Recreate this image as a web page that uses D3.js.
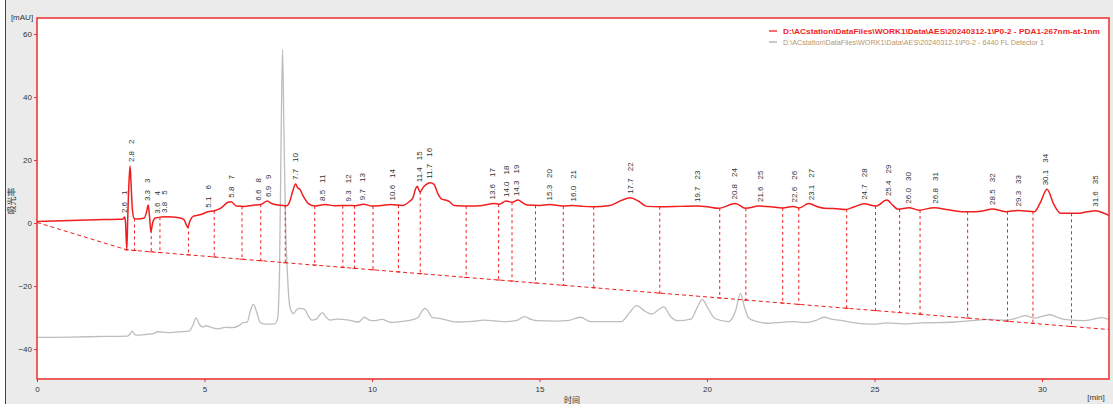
<!DOCTYPE html>
<html>
<head>
<meta charset="utf-8">
<script src="https://cdn.jsdelivr.net/npm/d3@7"></script>
<style>
  html, body { margin: 0; padding: 0; background: #fff; }
  svg { display: block; font-family: "Liberation Sans", Arial, sans-serif; }
</style>
</head>
<body>
<div id="chart"></div>
<script>
// PDA1-267nm signal (time in min, mAU)
const pdaTime = [0, 1.0, 2.0, 2.5, 2.57, 2.61, 2.64, 2.68, 2.71, 2.75, 2.78, 2.81, 2.85, 2.9, 3.0, 3.2, 3.27, 3.32, 3.36, 3.40, 3.45, 3.53, 3.7, 3.9, 4.2, 4.38, 4.45, 4.5, 4.56, 4.67, 4.9, 5.1, 5.3, 5.5, 5.7, 5.8, 5.95, 6.2, 6.5, 6.7, 6.88, 7.0, 7.2, 7.45, 7.55, 7.63, 7.72, 7.78, 7.84, 7.95, 8.1, 8.3, 8.6, 8.9, 9.3, 9.5, 9.75, 10.0, 10.3, 10.55, 10.9, 11.1, 11.22, 11.3, 11.35, 11.43, 11.55, 11.74, 11.85, 11.98, 12.08, 12.2, 12.3, 12.45, 12.9, 13.3, 13.63, 13.8, 14.0, 14.18, 14.36, 14.5, 14.65, 15.0, 15.3, 15.7, 16.0, 16.3, 16.6, 17.1, 17.45, 17.7, 17.95, 18.2, 18.6, 19.2, 19.7, 20.0, 20.35, 20.85, 21.15, 21.55, 21.9, 22.25, 22.57, 22.75, 23.04, 23.3, 23.5, 23.8, 24.14, 24.4, 24.69, 25.04, 25.37, 25.55, 25.7, 26.03, 26.33, 26.78, 27.2, 27.6, 28.0, 28.25, 28.52, 28.92, 29.27, 29.5, 29.77, 29.95, 30.15, 30.35, 30.56, 31.07, 31.35, 31.61, 31.85, 32.0];
const pdaValue = [0.5, 0.8, 1.1, 1.2, 1.3, 1.9, 0.5, -8.5, 2, 14, 18.1, 12, 4, 1.5, 1.3, 1.6, 3.5, 5.7, 2, -2.8, 0, 1.6, 1.9, 2.0, 1.8, 1.2, -0.4, -1.4, 0.5, 2.2, 2.7, 3.6, 3.9, 4.8, 6.6, 6.8, 5.4, 5.3, 5.7, 6.0, 7.0, 6.2, 5.7, 5.5, 7, 10, 12.4, 11.2, 10.8, 8.5, 6.2, 5.4, 5.9, 5.5, 5.6, 5.5, 6.0, 5.4, 5.6, 5.9, 5.6, 6.7, 8.0, 10.8, 11.7, 9.9, 11.6, 12.8, 12.3, 9, 7.6, 7.3, 6.9, 5.6, 5.4, 5.6, 6.2, 6.0, 7.0, 6.6, 7.3, 6.4, 5.7, 5.6, 5.9, 5.4, 5.6, 5.3, 5.2, 5.6, 7.2, 8.0, 7.0, 5.3, 5.2, 5.3, 5.4, 5.2, 4.7, 6.2, 4.7, 5.4, 5.2, 4.8, 5.3, 4.8, 6.2, 5.2, 4.7, 4.6, 4.3, 5.2, 6.1, 5.4, 7.3, 5.6, 4.4, 4.9, 4.1, 4.9, 4.2, 3.6, 3.6, 3.9, 4.5, 3.6, 4.0, 3.8, 3.6, 6.5, 10.7, 6, 3.1, 3.1, 3.6, 3.9, 3.1, 2.4];

// 6440 FL Detector 1 signal
const flTime = [0, 1.0, 2.0, 2.7, 2.78, 2.84, 2.92, 3.0, 3.3, 3.45, 3.6, 3.9, 4.3, 4.55, 4.65, 4.75, 4.85, 4.95, 5.05, 5.2, 5.4, 5.62, 5.85, 6.05, 6.15, 6.27, 6.38, 6.46, 6.55, 6.66, 6.8, 7.1, 7.18, 7.24, 7.29, 7.33, 7.37, 7.42, 7.48, 7.56, 7.66, 7.75, 7.84, 7.98, 8.1, 8.2, 8.34, 8.45, 8.53, 8.62, 8.75, 8.95, 9.25, 9.6, 9.77, 9.9, 10.05, 10.3, 10.55, 10.9, 11.24, 11.39, 11.5, 11.59, 11.7, 11.79, 12.04, 12.54, 13.0, 13.34, 13.94, 14.3, 14.55, 14.75, 14.93, 15.5, 15.83, 16.22, 16.53, 17.44, 17.68, 17.9, 18.15, 18.36, 18.55, 18.71, 18.9, 19.12, 19.52, 19.72, 19.86, 20.0, 20.24, 20.64, 20.85, 21.0, 21.1, 21.25, 21.5, 21.81, 22.2, 22.58, 22.93, 23.25, 23.49, 23.75, 23.95, 24.35, 24.96, 25.37, 25.88, 26.39, 26.9, 27.4, 27.9, 28.42, 28.93, 29.2, 29.49, 29.79, 30.0, 30.25, 30.45, 30.66, 31.27, 31.5, 31.78, 32.0];
const flValue = [-36.3, -36.2, -36.0, -35.9, -35.2, -34.3, -35.4, -35.6, -35.3, -35.2, -34.5, -34.8, -34.5, -34.2, -32.5, -30.1, -32.2, -33.0, -32.6, -33.1, -33.6, -33.1, -33.2, -32.4, -31.6, -31.5, -27.5, -25.8, -28.0, -31.5, -32.1, -32.0, -30.5, -15, 30, 55.1, 30, 0, -17, -27.1, -28.7, -27.5, -27.1, -27.3, -29.5, -30.8, -30.5, -29, -28.4, -29.8, -30.8, -30.5, -30.7, -31.4, -29.9, -30.7, -31.0, -30.6, -31.5, -31.2, -30.6, -29.8, -27.8, -27.1, -28.4, -29.9, -30.3, -31.4, -31.2, -30.8, -31.3, -31, -29.7, -30.6, -31.0, -31.1, -31.0, -29.9, -31.3, -31.3, -28.5, -26.2, -28, -28.9, -27.5, -26.6, -29.5, -31.0, -30.5, -26.5, -24.2, -26.5, -30.3, -31.3, -28, -22.3, -26, -30.2, -31.3, -31.8, -31.5, -31.3, -31.6, -30.9, -29.9, -30.6, -30.8, -31.6, -32.1, -31.7, -32.0, -31.7, -31.6, -31.4, -31.0, -30.6, -30.8, -30.3, -29.4, -30.2, -29.6, -29.1, -29.9, -30.6, -31.0, -30.6, -30.0, -30.6];

// integration baseline and peak boundaries
const baseTime = [0, 2.68, 32];
const baseValue = [0.2, -8.5, -33.8];
const dropTimes = [2.68, 2.91, 3.41, 3.67, 4.52, 5.29, 6.12, 6.68, 7.41, 8.29, 9.13, 9.48, 10.03, 10.79, 11.44, 12.81, 13.78, 14.18, 14.88, 15.71, 16.62, 18.59, 20.38, 21.16, 22.26, 22.74, 24.17, 25.03, 25.75, 26.36, 27.78, 28.97, 29.73, 30.88];

// peak labels
const peakTimes = ["2.6", "2.8", "3.3", "3.6", "3.8", "5.1", "5.8", "6.6", "6.9", "7.7", "8.5", "9.3", "9.7", "10.6", "11.4", "11.7", "13.6", "14.0", "14.3", "15.3", "16.0", "17.7", "19.7", "20.8", "21.6", "22.6", "23.1", "24.7", "25.4", "26.0", "26.8", "28.5", "29.3", "30.1", "31.6"];
const peakNumbers = d3.range(1, 36);

const xTicks = [0, 5, 10, 15, 20, 25, 30];
const yTicks = [-40, -20, 0, 20, 40, 60];

const legendNames = [
  "D:\\ACstation\\DataFiles\\WORK1\\Data\\AES\\20240312-1\\P0-2 - PDA1-267nm-at-1nm",
  "D:\\ACstation\\DataFiles\\WORK1\\Data\\AES\\20240312-1\\P0-2 - 6440 FL Detector 1"
];

const width = 1113, height = 409;
const red = "#f01e1e";

const svg = d3.select("#chart").append("svg")
  .attr("width", width)
  .attr("height", height);

// grey panel
svg.append("rect").attr("x", 6).attr("y", 0).attr("width", width - 6).attr("height", 404).attr("fill", "#ebebeb");
svg.append("line").attr("x1", 5.5).attr("x2", 5.5).attr("y1", 0).attr("y2", 404).attr("stroke", "#444").attr("stroke-width", 1);

const x = d3.scaleLinear().domain([0, 32]).range([37, 1109]);
const y = d3.scaleLinear().domain([-49.5, 65.1]).range([379, 18]);

svg.append("rect")
  .attr("x", x(0)).attr("y", y(65.1))
  .attr("width", x(32) - x(0)).attr("height", y(-49.5) - y(65.1))
  .attr("fill", "#fff");

svg.append("clipPath").attr("id", "clip")
  .append("rect")
  .attr("x", x(0)).attr("y", y(65.1))
  .attr("width", x(32) - x(0)).attr("height", y(-49.5) - y(65.1));

const plot = svg.append("g").attr("clip-path", "url(#clip)");

// interpolation helper
function valueAt(times, values, t) {
  const i = d3.bisectLeft(times, t);
  if (i <= 0) return values[0];
  if (i >= times.length) return values[values.length - 1];
  const t0 = times[i - 1], t1 = times[i];
  return values[i - 1] + (values[i] - values[i - 1]) * (t - t0) / (t1 - t0);
}

const line = d3.line()
  .x(d => x(d[0]))
  .y(d => y(d[1]))
  .curve(d3.curveMonotoneX);

// FL trace
plot.append("path")
  .datum(d3.zip(flTime, flValue))
  .attr("d", line)
  .attr("fill", "none")
  .attr("stroke", "#bdbdbd")
  .attr("stroke-width", 1.3);

// baseline
plot.append("path")
  .datum(d3.zip(baseTime, baseValue))
  .attr("d", d3.line().x(d => x(d[0])).y(d => y(d[1])))
  .attr("fill", "none")
  .attr("stroke", red)
  .attr("stroke-width", 1)
  .attr("stroke-dasharray", "4,3");

// drop lines
const drops = plot.append("g");
dropTimes.forEach(t => {
  const top = valueAt(pdaTime, pdaValue, t);
  const bot = valueAt(baseTime, baseValue, t);
  drops.append("line")
    .attr("x1", x(t)).attr("x2", x(t))
    .attr("y1", y(top)).attr("y2", y(bot))
    .attr("stroke", red)
    .attr("stroke-width", 1)
    .attr("stroke-dasharray", "3,3");
  drops.append("line")
    .attr("x1", x(t) - 2).attr("x2", x(t) + 2)
    .attr("y1", y(bot)).attr("y2", y(bot))
    .attr("stroke", red)
    .attr("stroke-width", 1);
});

// PDA trace
plot.append("path")
  .datum(d3.zip(pdaTime, pdaValue))
  .attr("d", line)
  .attr("fill", "none")
  .attr("stroke", red)
  .attr("stroke-width", 1.5);

// peak labels
const labels = svg.append("g")
  .attr("font-size", "8px")
  .attr("fill", "#333");

peakTimes.forEach((s, i) => {
  const t = +s;
  let apex = valueAt(pdaTime, pdaValue, t);
  pdaTime.forEach((tt, j) => {
    if (Math.abs(tt - t) <= 0.06) apex = Math.max(apex, pdaValue[j]);
  });
  const px = x(t), py = y(apex) - 4;
  const tl = labels.append("text")
    .attr("transform", `translate(${px},${py}) rotate(-90)`)
    .attr("dy", "0.35em")
    .text(s);
  const len = tl.node().getComputedTextLength();
  labels.append("text")
    .attr("transform", `translate(${px},${py - len - 7}) rotate(-90)`)
    .attr("dy", "0.35em")
    .text(peakNumbers[i]);
});

// frame
svg.append("rect")
  .attr("x", x(0)).attr("y", y(65.1))
  .attr("width", x(32) - x(0)).attr("height", y(-49.5) - y(65.1))
  .attr("fill", "none")
  .attr("stroke", "#ee2c2c")
  .attr("stroke-width", 1.5);

// axes
const xAxis = svg.append("g")
  .attr("transform", `translate(0,${y(-49.5)})`)
  .call(d3.axisBottom(x).tickValues(xTicks).tickSize(3).tickPadding(4));
const yAxis = svg.append("g")
  .attr("transform", `translate(${x(0)},0)`)
  .call(d3.axisLeft(y).tickValues(yTicks).tickSize(3).tickPadding(2));
[xAxis, yAxis].forEach(a => {
  a.select(".domain").remove();
  a.selectAll(".tick line").attr("stroke", "#ee2c2c");
  a.selectAll(".tick text")
    .attr("fill", "#333")
    .attr("font-size", "8px")
    .attr("font-family", "Liberation Sans, Arial, sans-serif");
});

svg.append("text")
  .attr("x", 22).attr("y", 20)
  .attr("text-anchor", "middle")
  .attr("font-size", "8px").attr("fill", "#333")
  .text("[mAU]");

svg.append("text")
  .attr("transform", "translate(12,201) rotate(-90)")
  .attr("text-anchor", "middle")
  .attr("dy", "0.35em")
  .attr("font-size", "9px").attr("fill", "#333")
  .attr("font-family", "Noto Sans CJK SC, sans-serif")
  .text("吸光率");

svg.append("text")
  .attr("x", 572).attr("y", 403)
  .attr("text-anchor", "middle")
  .attr("font-size", "8px").attr("fill", "#333")
  .attr("font-family", "Noto Sans CJK SC, sans-serif")
  .text("时间");

svg.append("text")
  .attr("x", 1096).attr("y", 400)
  .attr("text-anchor", "middle")
  .attr("font-size", "8px").attr("fill", "#333")
  .text("[min]");

// legend
const legendColors = ["#ff6a6a", "#c8c8c8"];
const legendText = [red, "#b4966e"];
const legendWeight = ["bold", "normal"];
const legendLen = [317, 261];
legendNames.forEach((name, i) => {
  const ly = 31 + i * 11;
  svg.append("line")
    .attr("x1", 769).attr("x2", 777)
    .attr("y1", ly).attr("y2", ly)
    .attr("stroke", legendColors[i]).attr("stroke-width", 2);
  svg.append("text")
    .attr("x", 783).attr("y", ly + 3)
    .attr("font-size", "8px")
    .attr("font-weight", legendWeight[i])
    .attr("fill", legendText[i])
    .attr("textLength", legendLen[i])
    .attr("lengthAdjust", "spacingAndGlyphs")
    .text(name);
});
</script>
</body>
</html>
